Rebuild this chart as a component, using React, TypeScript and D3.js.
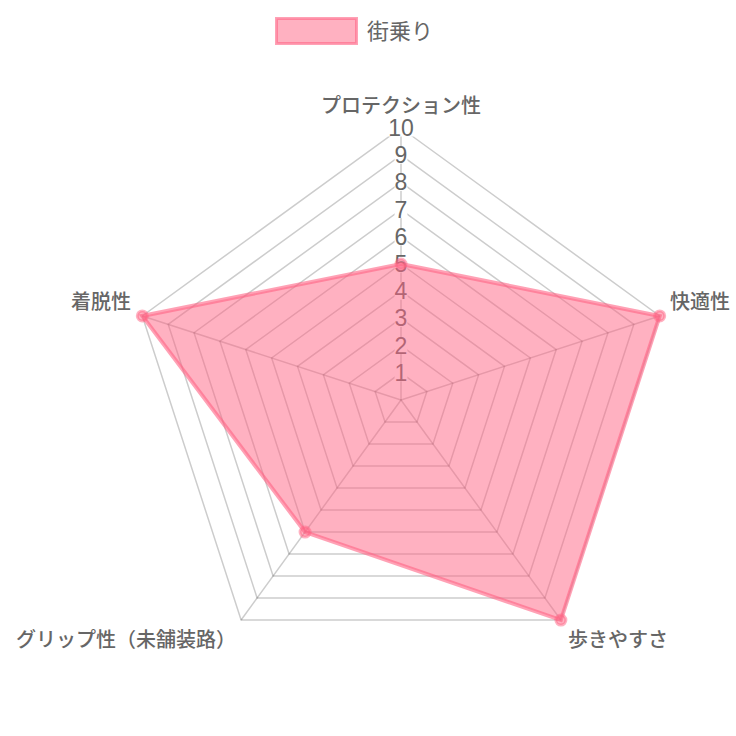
import React, { useEffect, useRef } from "react";
import * as d3 from "d3";

const categories = [
  "プロテクション性",
  "快適性",
  "歩きやすさ",
  "グリップ性（未舗装路）",
  "着脱性",
];
const seriesName = "街乗り";
const seriesValues = [5, 10, 10, 6, 10];
const maxValue = 10;

const FONT = "'Helvetica Neue', Helvetica, Arial, 'Noto Sans CJK JP', sans-serif";

const App: React.FC = () => {
  const svgRef = useRef<SVGSVGElement | null>(null);

  useEffect(() => {
    if (!svgRef.current) return;
    const svg = d3.select(svgRef.current);
    svg.selectAll("*").remove();

    const width = 736;
    const height = 736;
    const cx = 401;
    const cy = 400;
    const radius = 272;

    svg.attr("width", width).attr("height", height);

    const r = d3.scaleLinear().domain([0, maxValue]).range([0, radius]);
    const angle = (i: number) => (i * 2 * Math.PI) / categories.length;
    const pt = (i: number, v: number): [number, number] => [
      cx + r(v) * Math.sin(angle(i)),
      cy - r(v) * Math.cos(angle(i)),
    ];

    const g = svg.append("g");
    const ticks = r.ticks(10).filter((t) => t > 0);
    const gridColor = "rgba(0,0,0,0.2)";

    // grid pentagons
    ticks.forEach((t) => {
      const pts = categories.map((_, i) => pt(i, t));
      g.append("polygon")
        .attr("points", pts.map((p) => p.join(",")).join(" "))
        .attr("fill", "none")
        .attr("stroke", gridColor)
        .attr("stroke-width", 1.5);
    });

    // spokes
    categories.forEach((_, i) => {
      const [x, y] = pt(i, maxValue);
      g.append("line")
        .attr("x1", cx)
        .attr("y1", cy)
        .attr("x2", x)
        .attr("y2", y)
        .attr("stroke", gridColor)
        .attr("stroke-width", 1.5);
    });

    // tick labels with backdrop
    const tickG = g.append("g");
    ticks.forEach((t) => {
      const y = cy - r(t);
      const txt = tickG
        .append("text")
        .attr("x", cx)
        .attr("y", y)
        .attr("text-anchor", "middle")
        .attr("dominant-baseline", "central")
        .attr("font-family", FONT)
        .attr("font-size", 23)
        .attr("fill", "#666")
        .text(String(t));
      const bb = (txt.node() as SVGTextElement).getBBox();
      tickG
        .insert("rect", "text")
        .attr("x", bb.x)
        .attr("y", y - 8.5)
        .attr("width", bb.width)
        .attr("height", 17)
        .attr("fill", "white");
    });

    // point labels
    categories.forEach((c, i) => {
      const [px, py] = pt(i, maxValue + 12 / (radius / maxValue));
      const s = Math.sin(angle(i));
      const co = Math.cos(angle(i));
      const anchor = Math.abs(s) < 0.01 ? "middle" : s > 0 ? "start" : "end";
      const yy = co > 0.01 ? py - 10 : co < -0.01 ? py + 10 : py;
      const txt = g
        .append("text")
        .attr("x", px)
        .attr("y", yy)
        .attr("text-anchor", anchor)
        .attr("dominant-baseline", "central")
        .attr("font-family", FONT)
        .attr("font-size", 20)
        .attr("font-weight", 500)
        .attr("fill", "#666")
        .text(c);
      const w = (txt.node() as SVGTextElement).getComputedTextLength();
      if (anchor === "end" && px - w < 16) {
        txt.attr("text-anchor", "start").attr("x", 16);
      }
      if (anchor === "start" && px + w > width - 6) {
        txt.attr("text-anchor", "end").attr("x", width - 6);
      }
    });

    // data area
    const line = d3
      .line<number>()
      .x((v, i) => pt(i, v)[0])
      .y((v, i) => pt(i, v)[1])
      .curve(d3.curveLinearClosed);

    g.append("path")
      .attr("d", line(seriesValues)!)
      .attr("fill", "rgba(255,99,132,0.5)")
      .attr("stroke", "rgba(255,99,132,0.6)")
      .attr("stroke-width", 4)
      .attr("stroke-linejoin", "miter");

    g.selectAll("circle.pt")
      .data(seriesValues)
      .enter()
      .append("circle")
      .attr("class", "pt")
      .attr("cx", (v, i) => pt(i, v)[0])
      .attr("cy", (v, i) => pt(i, v)[1])
      .attr("r", 5)
      .attr("fill", "rgba(255,99,132,0.5)")
      .attr("stroke", "rgba(255,99,132,0.5)")
      .attr("stroke-width", 3);

    // legend
    const lg = svg.append("g");
    lg.append("rect")
      .attr("x", 276.5)
      .attr("y", 18.5)
      .attr("width", 80)
      .attr("height", 25)
      .attr("fill", "rgba(255,99,132,0.5)")
      .attr("stroke", "rgba(255,99,132,0.6)")
      .attr("stroke-width", 3);
    lg.append("text")
      .attr("x", 367)
      .attr("y", 31)
      .attr("dominant-baseline", "central")
      .attr("font-family", FONT)
      .attr("font-size", 22)
      .attr("fill", "#666")
      .text(seriesName);
  }, []);

  return (
    <svg
      ref={svgRef}
      style={{ position: "absolute", left: 0, top: 0, background: "white" }}
    ></svg>
  );
};

export default App;
